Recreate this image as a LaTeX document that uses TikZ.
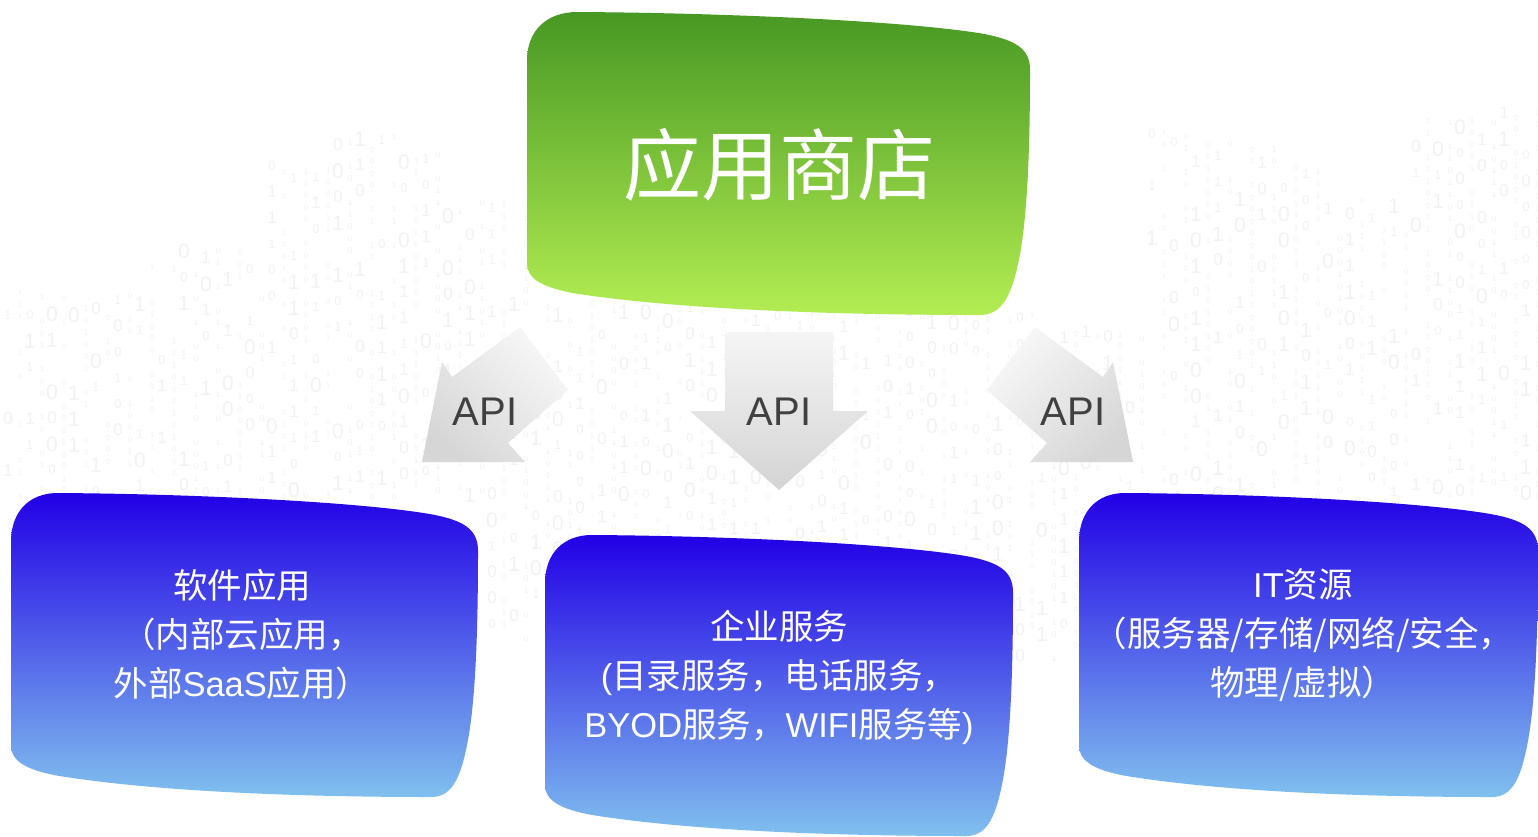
\documentclass[tikz,border=0pt]{standalone}
\usepackage{fontspec}
\setmainfont{Liberation Sans}
\newfontfamily\cjk{Noto Sans CJK SC}
\newfontfamily\lat{Liberation Sans}
\definecolor{gtop}{HTML}{479823}
\definecolor{gbot}{HTML}{B3ED52}
\definecolor{btop}{HTML}{2200E6}
\definecolor{bbot}{HTML}{80C0EE}
\definecolor{apigray}{HTML}{404040}
\definecolor{digitgray}{HTML}{F2F2F2}
\newcommand\mywavebox[6]{%
  \begin{scope}[shift={(#1,#2)},x=#3pt,y=-#4pt]
    \path[top color=#5,bottom color=#6]
      (0,0.16) .. controls (0,0.06) and (0.04,0) .. (0.1,0)
      .. controls (0.4,0.003) and (0.75,0.03) .. (0.9,0.07)
      .. controls (0.97,0.09) and (1,0.12) .. (1,0.19)
      .. controls (1,0.45) and (0.995,0.7) .. (0.975,0.84)
      .. controls (0.96,0.95) and (0.94,1) .. (0.9,1)
      .. controls (0.6,1) and (0.3,0.98) .. (0.1,0.93)
      .. controls (0.03,0.91) and (0,0.88) .. (0,0.83) -- cycle;
  \end{scope}}
\tikzset{
  boxtext/.style={text=white,align=center,font=\cjk\fontsize{34.5}{49}\selectfont},
  apitext/.style={text=apigray,font=\lat\fontsize{40}{40}\selectfont,inner sep=0pt},
  arrowshape/.style={draw=none},
  digit/.style={text=digitgray,inner sep=0pt}
}
\begin{document}
\begin{tikzpicture}[x=1pt,y=-1pt]
\useasboundingbox (0,0) rectangle (1538,836);
\fill[white] (0,0) rectangle (1538,836);
% faint binary background, in staggered columns
\pgfmathsetseed{11}
\foreach \cx in {8,30,...,1530} {
  \pgfmathtruncatemacro\ctop{\cx<130 ? 290 : (\cx<180 ? 262 : (\cx<270 ? 243 : (\cx<320 ? 165 : (\cx<400 ? 120 : (\cx<440 ? 150 : (\cx<520 ? 200 : (\cx<1040 ? 300 : (\cx<1140 ? 330 : (\cx<1200 ? 127 : (\cx<1270 ? 143 : (\cx<1320 ? 167 : (\cx<1400 ? 200 : 110))))))))))))}
  \pgfmathtruncatemacro\cbot{(\cx>480 && \cx<1080) ? 660 : 500}
  \pgfmathrandominteger\offL{0}{26}
  \pgfmathrandominteger\offS{0}{10}
  % large digits
  \foreach \cy in {104,130,...,660} {
    \pgfmathtruncatemacro\yy{\cy+\offL}
    \pgfmathtruncatemacro\inside{(\yy>\ctop && \yy<\cbot) ? 1 : 0}
    \pgfmathrandominteger\keep{0}{2}
    \ifnum\inside=1 \ifnum\keep>0
      \pgfmathrandominteger\dg{0}{1}
      \pgfmathrandominteger\sz{0}{2}
      \pgfmathtruncatemacro\fs{13+4*\sz}
      \node[digit,font=\lat\fontsize{\fs}{\fs}\selectfont] (bgL-\cx-\cy) at (\cx,\yy) {\dg};
    \fi\fi
  }
  % small digits beside
  \foreach \cy in {104,116,...,660} {
    \pgfmathtruncatemacro\yy{\cy+\offS}
    \pgfmathtruncatemacro\inside{(\yy>\ctop && \yy<\cbot) ? 1 : 0}
    \pgfmathrandominteger\keep{0}{2}
    \ifnum\inside=1 \ifnum\keep>0
      \pgfmathrandominteger\dg{0}{1}
      \node[digit,font=\lat\fontsize{8}{8}\selectfont] (bgS-\cx-\cy) at (\cx+12,\yy) {\dg};
    \fi\fi
  }
}
% top box
\mywavebox{527}{12}{503}{303}{gtop}{gbot}
\node[text=white,font=\cjk\fontsize{78}{78}\selectfont] (store) at (779,165) {应用商店};
% API arrows
\path[arrowshape,top color=black!3,bottom color=black!16,shading angle=-45]
  (422,462) -- (442,362) -- (452,377) -- (520,327) -- (568,390) -- (508,443) -- (525,462) -- cycle;
\path[arrowshape,top color=black!4,bottom color=black!17]
  (725,332) -- (833,332) -- (833,411) -- (868,411) -- (779,490) -- (690,411) -- (725,411) -- cycle;
\path[arrowshape,top color=black!3,bottom color=black!16,shading angle=45]
  (1133,462) -- (1113,362) -- (1103,377) -- (1035,327) -- (987,390) -- (1047,443) -- (1030,462) -- cycle;
\node[apitext] (apiL) at (485,412) {API};
\node[apitext] (apiM) at (779,412) {API};
\node[apitext] (apiR) at (1073,412) {API};
% bottom boxes
\mywavebox{11}{493}{467}{304}{btop}{bbot}
\mywavebox{545}{535}{468}{301}{btop}{bbot}
\mywavebox{1079}{493}{459}{304}{btop}{bbot}
\node[boxtext] (soft) at (242,635) {软件应用\\（内部云应用，\\外部{\lat SaaS}应用）};
\node[boxtext] (ent) at (779,677) {企业服务\\{\lat (}目录服务，电话服务，\\{\lat BYOD}服务，{\lat WIFI}服务等{\lat )}};
\node[boxtext] (itres) at (1303,635) {{\lat IT}资源\\（服务器/存储/网络/安全，\\物理/虚拟）};
\end{tikzpicture}
\end{document}
